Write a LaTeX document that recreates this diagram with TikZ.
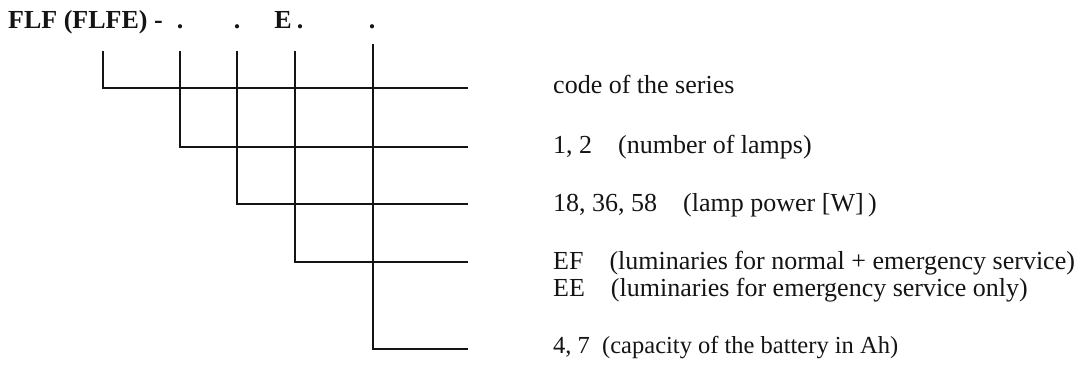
\documentclass[tikz,border=0pt]{standalone}
\usepackage{fontspec}
\setmainfont{Liberation Serif}
\usetikzlibrary{calc,positioning}
\definecolor{codeInk}{RGB}{20,20,20}

\begin{document}
\begin{tikzpicture}[x=1pt,y=-1pt,
  codeline/.style={draw=codeInk, line width=1.5pt},
  legend/.style={anchor=west, inner sep=0pt, text=codeInk, font=\fontsize{26}{30}\selectfont},
  head/.style={anchor=base west, inner sep=0pt, text=codeInk, font=\fontsize{26}{30}\selectfont\bfseries}]
\useasboundingbox (0,0) rectangle (1083,371);

% type code
\node[head] (name) at (8,29) {FLF (FLFE) -};
\node[head,anchor=base] (d1) at (180,29) {.};
\node[head,anchor=base] (d2) at (237,29) {.};
\node[head,anchor=base] (ee) at (283,29) {E};
\node[head,anchor=base] (d3) at (300,29) {.};
\node[head,anchor=base] (d4) at (372,29) {.};

% brackets
\foreach \i/\x/\t/\y in {1/103/51/88, 2/180/51/147, 3/237/51/204, 4/295/51/262, 5/373/44/349} {
  \coordinate (t\i) at (\x,\t);
  \coordinate (e\i) at (468,\y);
  \draw[codeline] (t\i) |- (e\i);
}

% meaning of each position
\node[legend] (series) at (553,84) {code of the series};
\node[legend] (lamps) at (553,147) {1,\ 2\quad (number of lamps)};
\node[legend] (power) at (553,205) {18,\ 36, 58\quad (lamp power [W]\,)};
\node[legend] (ef) at (553,263) {EF\quad (luminaries for normal + emergency service)};
\node[legend] (eeonly) at (553,290) {EE\quad (luminaries for emergency service only)};
\node[legend,font=\fontsize{24.5}{28}\selectfont] (battery) at (553,348) {4,\ 7\enspace (capacity of the battery in Ah)};
\end{tikzpicture}
\end{document}
